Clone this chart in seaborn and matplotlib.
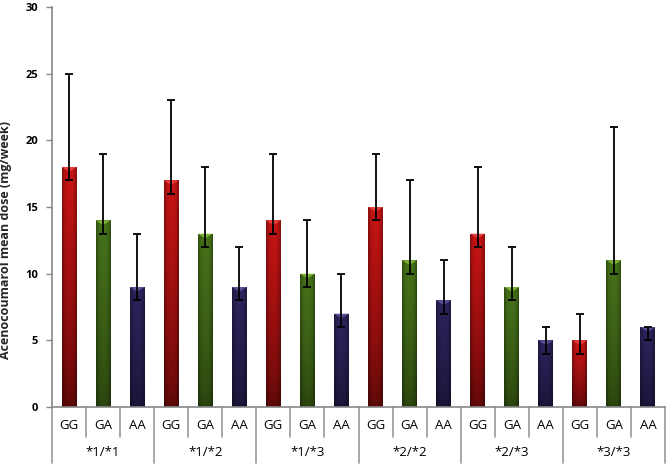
import numpy as np
import pandas as pd
import matplotlib
matplotlib.use("Agg")
import matplotlib.pyplot as plt
import matplotlib.colors as mcolors
import matplotlib.transforms as mtransforms
from matplotlib.patches import Polygon
import seaborn as sns

groups = ["*1/*1", "*1/*2", "*1/*3", "*2/*2", "*2/*3", "*3/*3"]
genotypes = ["GG", "GA", "AA"]
means = [18, 14, 9, 17, 13, 9, 14, 10, 7, 15, 11, 8, 13, 9, 5, 5, 11, 6]
upper = [25, 19, 13, 23, 18, 12, 19, 14, 10, 19, 17, 11, 18, 12, 6, 7, 21, 6]
lower = [17, 13, 8, 16, 12, 8, 13, 9, 6, 14, 10, 7, 12, 8, 4, 4, 10, 5]
yticks = [0, 5, 10, 15, 20, 25, 30]

top_cols = {"GG": "#c81414", "GA": "#46731a", "AA": "#2e235c"}
bot_cols = {"GG": "#5a0808", "GA": "#2a430e", "AA": "#1b1336"}
hi_cols = {"GG": "#f04a4a", "GA": "#8cc43a", "AA": "#6a5aa8"}

rows = []
for gi, g in enumerate(groups):
    for ti, t in enumerate(genotypes):
        rows.append({"slot": f"{g} {t}", "group": g, "genotype": t,
                     "mean": means[gi * 3 + ti]})
df = pd.DataFrame(rows)

sns.set_style("white")
fig = plt.figure(figsize=(6.7, 4.67), dpi=100)
ax = fig.add_axes([52 / 670, 60 / 467, 613 / 670, 400 / 467])

sns.barplot(data=df, x="slot", y="mean", hue="genotype", dodge=False,
            palette=top_cols, width=0.44, legend=False, ax=ax, saturation=1)

ax.set_xlim(-0.5, len(means) - 0.5)
ax.set_ylim(0, 30)

# gradient fill on each bar
for p in list(ax.patches):
    x0, w, h = p.get_x(), p.get_width(), p.get_height()
    if h <= 0:
        continue
    xc = x0 + w / 2
    idx = int(round(xc))
    gt = genotypes[idx % 3]
    c_top = np.array(mcolors.to_rgb(top_cols[gt]))
    c_bot = np.array(mcolors.to_rgb(bot_cols[gt]))
    ny, nx = 100, 30
    t = (np.linspace(0, 1, ny) ** 0.7)[:, None, None]
    img = c_bot * (1 - t) + c_top * t
    img = np.repeat(img, nx, axis=1)
    xs = np.linspace(-1, 1, nx)
    shade = 1 - 0.35 * np.abs(xs) ** 3
    img = img * shade[None, :, None]
    im = ax.imshow(img, extent=[x0, x0 + w, 0, h], origin="lower",
                   aspect="auto", zorder=p.get_zorder() + 0.1,
                   interpolation="bilinear")
    im.set_clip_path(p)
    p.set_edgecolor("none")
    dh = 0.35
    tri = Polygon([[x0, h], [x0 + w, h], [xc, h - dh]], closed=True,
                  facecolor=hi_cols[gt], edgecolor="none", alpha=0.8,
                  zorder=p.get_zorder() + 0.2)
    ax.add_patch(tri)

xpos = np.arange(len(means))
m = np.array(means)
ax.errorbar(xpos, m, yerr=[m - np.array(lower), np.array(upper) - m],
            fmt="none", ecolor="black", elinewidth=1.3, capsize=3.2,
            capthick=1.3, zorder=10)

ax.set_xlim(-0.5, len(means) - 0.5)
ax.set_ylim(0, 30)
ax.set_yticks(yticks)
ax.set_yticklabels([str(v) for v in yticks], fontsize=8, fontweight="bold",
                   family="Open Sans")
ax.set_xticks([])
ax.set_xlabel("")
ax.set_ylabel("Acenocoumarol mean dose (mg/week)", fontsize=9,
              fontweight="bold", family="Open Sans")
ax.yaxis.set_label_coords(-40 / 613, (407 - 240) / 400)
ax.tick_params(axis="y", direction="out", length=4, color="#888888",
               width=1, pad=6, left=True, labelcolor="black")
for s in ["top", "right"]:
    ax.spines[s].set_visible(False)
for s in ["left", "bottom"]:
    ax.spines[s].set_color("#888888")
    ax.spines[s].set_linewidth(1.2)

trans = mtransforms.blended_transform_factory(ax.transData, ax.transAxes)
sepc = "#999999"
for k in range(len(means) + 1):
    xb = k - 0.5
    if k % 3 == 0:
        ax.plot([xb, xb], [0, -0.14], transform=trans, color=sepc, lw=1.2,
                clip_on=False)
    else:
        ax.plot([xb, xb], [0, -0.075], transform=trans, color=sepc, lw=1.2,
                clip_on=False)
for i in range(len(means)):
    ax.text(i, -0.047, genotypes[i % 3], transform=trans, ha="center",
            va="center", fontsize=9.5, family="Open Sans", color="black")
for gi, g in enumerate(groups):
    ax.text(gi * 3 + 1, -0.115, g, transform=trans, ha="center", va="center",
            fontsize=9.5, family="Open Sans", color="black")

fig.savefig("out.png", dpi=100)
